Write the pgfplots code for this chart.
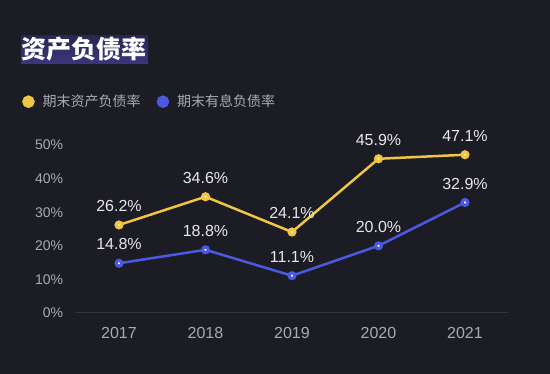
\documentclass[border=0pt]{standalone}
\usepackage{fontspec}
\setmainfont{Liberation Sans}
\newfontfamily\cjk{Noto Sans CJK SC}
\usepackage{pgfplots}
\pgfplotsset{compat=1.18}
\definecolor{bg}{HTML}{1C1C25}
\definecolor{hltop}{HTML}{2A2654}
\definecolor{hl}{HTML}{3D357E}
\definecolor{ylw}{HTML}{F0C544}
\definecolor{ylwc}{HTML}{FBE7A0}
\definecolor{blu}{HTML}{4A58E2}
\definecolor{axisc}{HTML}{34353F}
\definecolor{tickc}{HTML}{A9A9B2}
\definecolor{labc}{HTML}{E6E6EA}
\begin{document}
\begin{tikzpicture}[x=1pt,y=1pt]
\fill[bg] (0,0) rectangle (550,374);
\useasboundingbox (0,0) rectangle (550,374);
\shade[top color=hltop, bottom color=hl] (21,310) rectangle (148,338);
\node[anchor=west, inner sep=0pt, text=white, font=\cjk\bfseries\fontsize{25}{25}\selectfont] at (21,324.5) {资产负债率};
\begin{axis}[
  at={(75.75pt,61pt)}, anchor=south west,
  scale only axis, width=432.5pt, height=168pt,
  xmin=-0.5, xmax=4.5, ymin=0, ymax=50,
  clip=false,
  axis x line*=bottom, axis y line*=left,
  y axis line style={draw=none},
  x axis line style={draw=axisc, line width=1pt, -},
  major tick length=0pt,
  xtick={0,1,2,3,4},
  xticklabels={2017,2018,2019,2020,2021},
  ytick={0,10,20,30,40,50},
  yticklabel={\pgfmathprintnumber{\tick}\%},
  /pgf/number format/assume math mode=true,
  xticklabel style={anchor=base, yshift=-25.5pt, inner sep=0pt, text=tickc, font=\fontsize{16}{16}\selectfont},
  yticklabel style={anchor=east, xshift=-12.5pt, inner sep=0pt, text=tickc, font=\fontsize{14}{14}\selectfont},
  legend style={at={(-0.1243,1.2577)}, anchor=west, draw=none, fill=none, inner sep=0pt,
    nodes={inner sep=0pt, text=tickc, font=\cjk\fontsize{14}{14}\selectfont},
    column sep=8pt, /tikz/every even column/.append style={column sep=16pt}},
  legend columns=2,
  nodes near coords={\pgfmathprintnumber[fixed,precision=1,fixed zerofill]{\pgfplotspointmeta}\%},
  every node near coord/.append style={anchor=base, yshift=13.3pt, inner sep=0pt, text=labc, font=\fontsize{16}{16}\selectfont},
]
\addplot[color=ylw, line width=2.5pt, mark=*, mark size=3pt,
  mark options={fill=ylwc, draw=ylw, line width=3pt},
  legend image code/.code={\fill[ylw] (5pt,0pt) circle (5pt);}]
  coordinates {(0,26.2) (1,34.6) (2,24.1) (3,45.9) (4,47.1)};
\addlegendentry{期末资产负债率}
\addplot[color=blu, line width=2.5pt, mark=*, mark size=2.9pt,
  mark options={fill=white, draw=blu, line width=3.2pt},
  legend image code/.code={\fill[blu] (5pt,0pt) circle (5pt);}]
  coordinates {(0,14.8) (1,18.8) (2,11.1) (3,20.0) (4,32.9)};
\addlegendentry{期末有息负债率}
\end{axis}
\end{tikzpicture}
\end{document}
